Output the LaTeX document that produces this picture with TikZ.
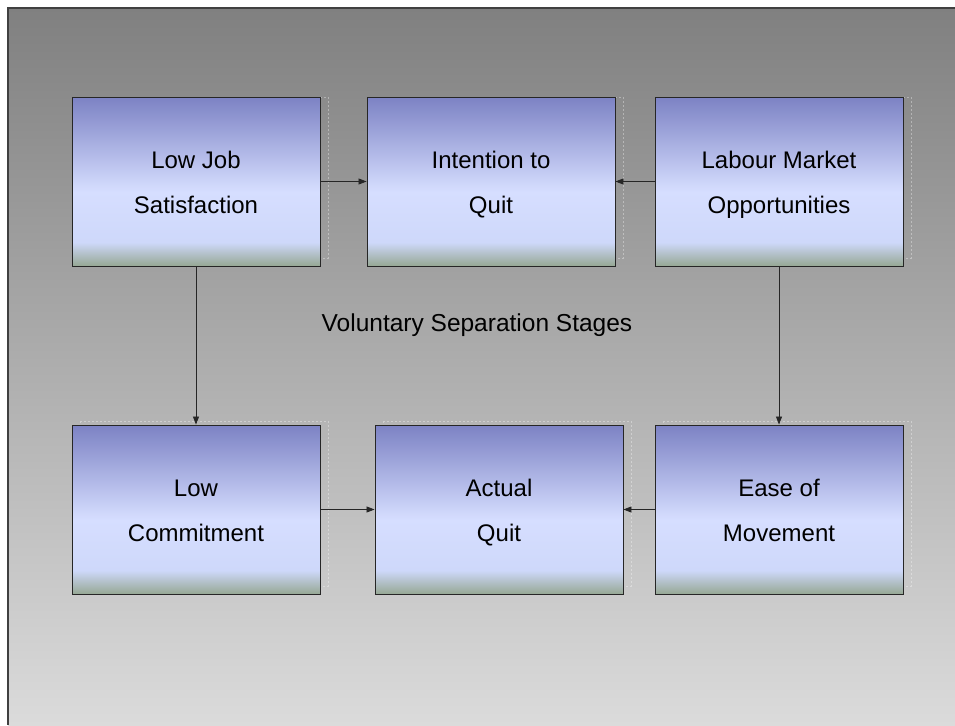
\documentclass[tikz,border=0pt]{standalone}
\usepackage{fontspec}
\setmainfont{Liberation Sans}
\usetikzlibrary{arrows.meta}
\definecolor{boxtop}{RGB}{124,130,196}
\definecolor{boxmid}{RGB}{214,222,255}
\definecolor{boxlow}{RGB}{206,216,250}
\definecolor{boxbot}{RGB}{150,168,148}
\definecolor{bgtop}{RGB}{128,128,128}
\definecolor{bgbot}{RGB}{219,219,219}
\pgfdeclareverticalshading{boxshade}{100bp}{color(0bp)=(boxbot); color(25bp)=(boxbot); color(32bp)=(boxlow); color(47bp)=(boxmid); color(75bp)=(boxtop); color(100bp)=(boxtop)}
\pgfdeclareverticalshading{bgshade}{100bp}{color(0bp)=(bgbot); color(25bp)=(bgbot); color(75bp)=(bgtop); color(100bp)=(bgtop)}
\tikzset{
  stagebox/.style={rectangle, draw=black!85, line width=0.9pt, shading=boxshade,
    minimum width=248pt, minimum height=169pt, inner sep=0pt, align=center,
    font=\fontsize{24}{45}\selectfont, text=black},
  shadowbox/.style={draw=white, draw opacity=0.35, line width=0.8pt, dash pattern=on 2pt off 2pt},
  conn/.style={draw=black!85, line width=0.8pt, -{Triangle[length=8pt,width=6pt]}}
}
\begin{document}
\begin{tikzpicture}[x=1pt,y=-1pt]
\useasboundingbox (0,0) rectangle (955,725);
\shade[shading=bgshade] (8,8) rectangle (955,725);
\draw[draw=black!75, line width=1.2pt] (8,725) -- (8,8) -- (955,8);
% shadows
\foreach \l/\t/\r/\b in {72/97/320/266, 367/97/615/266, 655/97/903/266}{
  \draw[shadowbox] (\l+8,\t) rectangle (\r+8,\b-8);
}
\foreach \l/\t/\r/\b in {72/425/320/594, 375/425/623/594, 655/425/903/594}{
  \draw[shadowbox] (\l+8,\t-4) rectangle (\r+8,\b-8);
}
\node[stagebox] (ljs) at (196,181.5) {\strut Low Job\\Satisfaction\strut};
\node[stagebox] (itq) at (491,181.5) {\strut Intention to\\Quit\strut};
\node[stagebox] (lmo) at (779,181.5) {\strut Labour Market\\Opportunities\strut};
\node[stagebox] (lc) at (196,509.5) {\strut Low\\Commitment\strut};
\node[stagebox] (aq) at (499,509.5) {\strut Actual\\Quit\strut};
\node[stagebox] (eom) at (779,509.5) {\strut Ease of\\Movement\strut};
\node[font=\fontsize{24.5}{30}\selectfont, text=black] (title) at (477,325) {Voluntary Separation Stages};
\draw[conn] (ljs.east) -- (itq.west);
\draw[conn] (lmo.west) -- (itq.east);
\draw[conn] (ljs.south) -- (lc.north);
\draw[conn] (lmo.south) -- (eom.north);
\draw[conn] (lc.east) -- (aq.west);
\draw[conn] (eom.west) -- (aq.east);
\end{tikzpicture}
\end{document}
